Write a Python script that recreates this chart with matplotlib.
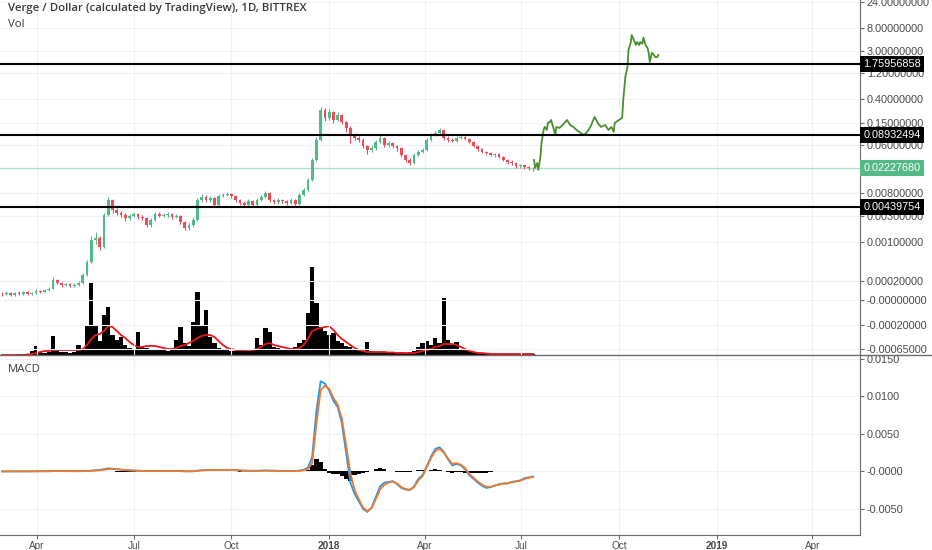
import matplotlib
matplotlib.use('Agg')
import matplotlib.pyplot as plt
from matplotlib.lines import Line2D
from matplotlib.ticker import NullLocator
import pandas as pd

# 4-day candles, XVG/USD
first_open = 1.18e-4
closes = [
    1.157e-4, 1.207e-4, 1.110e-4, 1.207e-4, 1.157e-4, 1.259e-4, 1.157e-4, 1.207e-4, 1.313e-4, 1.280e-4,
    1.369e-4, 1.427e-4, 2.080e-4, 1.834e-4, 1.688e-4, 1.760e-4, 1.618e-4, 1.688e-4, 1.834e-4, 2.565e-4,
    4.420e-4, 1.110e-3, 1.210e-3, 8.280e-4, 3.160e-3, 5.920e-3, 3.900e-3, 3.440e-3, 3.160e-3, 2.790e-3,
    3.030e-3, 3.300e-3, 2.910e-3, 2.790e-3, 2.080e-3, 2.565e-3, 3.300e-3, 3.030e-3, 3.160e-3, 3.300e-3,
    2.910e-3, 3.030e-3, 2.360e-3, 1.834e-3, 2.080e-3, 2.565e-3, 5.920e-3, 6.720e-3, 5.920e-3, 6.440e-3,
    4.810e-3, 7.010e-3, 7.310e-3, 7.620e-3, 7.010e-3, 5.920e-3, 5.230e-3, 4.810e-3, 5.680e-3, 4.810e-3,
    5.920e-3, 6.720e-3, 7.940e-3, 5.920e-3, 5.450e-3, 5.920e-3, 5.680e-3, 5.230e-3, 5.920e-3, 5.010e-3,
    7.310e-3, 9.010e-3, 0.01369, 0.0316, 0.0731, 0.2565, 0.1834, 0.2359, 0.1688, 0.2080,
    0.1552, 0.1207, 0.0901, 0.0794, 0.0731, 0.0568, 0.0481, 0.0523, 0.0672, 0.0794,
    0.0593, 0.0644, 0.0568, 0.0523, 0.0390, 0.0316, 0.0279, 0.0390, 0.0442, 0.0481,
    0.0731, 0.0901, 0.0979, 0.1110, 0.0794, 0.0731, 0.0701, 0.0794, 0.0828, 0.0762,
    0.0672, 0.0568, 0.0502, 0.0442, 0.0424, 0.0390, 0.0400, 0.0358, 0.0316, 0.0291,
    0.0279, 0.0246, 0.0252, 0.0236, 0.0226, 0.0223]
highs = [
    1.25e-4, 1.30e-4, 1.28e-4, 1.27e-4, 1.29e-4, 1.33e-4, 1.32e-4, 1.28e-4, 1.40e-4, 1.39e-4,
    1.45e-4, 1.55e-4, 2.35e-4, 2.20e-4, 1.92e-4, 1.86e-4, 1.82e-4, 1.80e-4, 1.98e-4, 2.80e-4,
    4.90e-4, 1.30e-3, 1.55e-3, 1.30e-3, 3.40e-3, 6.70e-3, 6.30e-3, 4.30e-3, 3.80e-3, 3.40e-3,
    3.30e-3, 3.60e-3, 3.50e-3, 3.20e-3, 2.95e-3, 2.80e-3, 3.60e-3, 3.55e-3, 3.45e-3, 3.55e-3,
    3.45e-3, 3.30e-3, 3.15e-3, 2.50e-3, 2.30e-3, 2.85e-3, 6.40e-3, 7.60e-3, 7.20e-3, 7.00e-3,
    6.70e-3, 7.60e-3, 8.00e-3, 8.40e-3, 8.00e-3, 7.40e-3, 6.30e-3, 5.60e-3, 6.10e-3, 6.00e-3,
    6.40e-3, 7.30e-3, 8.60e-3, 8.20e-3, 6.30e-3, 6.40e-3, 6.30e-3, 6.00e-3, 6.40e-3, 6.20e-3,
    7.90e-3, 9.80e-3, 0.0150, 0.0350, 0.082, 0.290, 0.275, 0.265, 0.250, 0.235,
    0.220, 0.165, 0.130, 0.098, 0.086, 0.078, 0.060, 0.058, 0.072, 0.090,
    0.083, 0.069, 0.067, 0.060, 0.055, 0.041, 0.034, 0.042, 0.048, 0.053,
    0.079, 0.097, 0.106, 0.120, 0.115, 0.085, 0.078, 0.085, 0.089, 0.087,
    0.080, 0.070, 0.059, 0.052, 0.047, 0.045, 0.043, 0.042, 0.037, 0.033,
    0.031, 0.029, 0.027, 0.026, 0.025, 0.024]
lows = [
    1.08e-4, 1.10e-4, 1.05e-4, 1.06e-4, 1.10e-4, 1.11e-4, 1.09e-4, 1.12e-4, 1.16e-4, 1.22e-4,
    1.24e-4, 1.30e-4, 1.40e-4, 1.75e-4, 1.58e-4, 1.60e-4, 1.52e-4, 1.55e-4, 1.62e-4, 1.78e-4,
    2.45e-4, 4.20e-4, 9.50e-4, 7.30e-4, 8.00e-4, 3.00e-3, 3.50e-3, 3.10e-3, 2.90e-3, 2.50e-3,
    2.60e-3, 2.90e-3, 2.70e-3, 2.55e-3, 1.90e-3, 1.95e-3, 2.45e-3, 2.85e-3, 2.85e-3, 2.95e-3,
    2.70e-3, 2.75e-3, 2.20e-3, 1.70e-3, 1.72e-3, 1.95e-3, 2.45e-3, 5.50e-3, 5.50e-3, 5.50e-3,
    4.40e-3, 4.60e-3, 6.60e-3, 6.90e-3, 6.50e-3, 5.50e-3, 4.90e-3, 4.40e-3, 4.50e-3, 4.50e-3,
    4.60e-3, 5.60e-3, 6.40e-3, 5.50e-3, 5.00e-3, 5.10e-3, 5.30e-3, 4.90e-3, 5.00e-3, 4.70e-3,
    4.80e-3, 7.00e-3, 8.60e-3, 0.0130, 0.030, 0.070, 0.160, 0.172, 0.150, 0.160,
    0.140, 0.100, 0.064, 0.072, 0.066, 0.052, 0.040, 0.044, 0.049, 0.064,
    0.055, 0.055, 0.052, 0.047, 0.036, 0.029, 0.026, 0.027, 0.037, 0.042,
    0.046, 0.070, 0.086, 0.093, 0.074, 0.068, 0.066, 0.067, 0.075, 0.072,
    0.064, 0.054, 0.047, 0.042, 0.040, 0.037, 0.036, 0.034, 0.030, 0.027,
    0.026, 0.023, 0.023, 0.022, 0.021, 0.020]

# volume (millions) and its moving average
volume = [
    5, 5, 5, 5, 6, 8, 10, 40, 90, 30,
    20, 30, 190, 60, 30, 30, 20, 30, 100, 50,
    300, 720, 300, 140, 400, 480, 200, 150, 180, 100,
    70, 60, 230, 80, 70, 60, 50, 60, 50, 40,
    50, 150, 280, 120, 90, 330, 630, 300, 450, 180,
    120, 70, 60, 50, 40, 40, 50, 40, 40, 60,
    170, 100, 270, 230, 80, 70, 60, 60, 70, 80,
    120, 150, 420, 880, 520, 280, 240, 200, 220, 140,
    120, 90, 80, 60, 50, 40, 130, 40, 30, 30,
    30, 20, 30, 20, 30, 20, 30, 40, 80, 120,
    140, 100, 170, 120, 570, 150, 100, 130, 60, 50,
    40, 30, 20, 20, 20, 15, 15, 15, 10, 10,
    10, 10, 10, 10, 10, 10]
volume_ma = [
    0, 0, 0, 0, 0, 0, 5, 10, 20, 30,
    40, 40, 50, 50, 50, 50, 50, 50, 50, 60,
    100, 160, 200, 210, 240, 290, 280, 240, 200, 170,
    130, 100, 80, 80, 90, 90, 90, 80, 70, 60,
    60, 70, 90, 100, 120, 140, 170, 190, 200, 200,
    180, 140, 100, 70, 60, 50, 50, 50, 50, 50,
    60, 80, 110, 120, 100, 90, 80, 70, 60, 60,
    70, 100, 160, 240, 260, 270, 280, 290, 250, 200,
    160, 130, 100, 70, 50, 40, 30, 30, 30, 30,
    30, 25, 25, 20, 20, 20, 20, 20, 30, 40,
    50, 60, 80, 90, 110, 110, 110, 100, 80, 60,
    40, 30, 20, 20, 15, 10, 10, 10, 10, 10,
    10, 10, 10, 10, 10, 10]

# MACD pane
macd = [
    0.00000, 0.00000, 0.00000, 0.00001, 0.00001, 0.00001, 0.00001, 0.00001, 0.00002, 0.00002,
    0.00002, 0.00003, 0.00004, 0.00004, 0.00004, 0.00003, 0.00003, 0.00003, 0.00003, 0.00004,
    0.00006, 0.00010, 0.00016, 0.00020, 0.00030, 0.00040, 0.00036, 0.00028, 0.00022, 0.00016,
    0.00012, 0.00010, 0.00008, 0.00006, 0.00004, 0.00004, 0.00006, 0.00006, 0.00006, 0.00007,
    0.00006, 0.00005, 0.00003, 0.00001, 0.00001, 0.00003, 0.00010, 0.00016, 0.00018, 0.00019,
    0.00016, 0.00018, 0.00020, 0.00022, 0.00020, 0.00016, 0.00012, 0.00009, 0.00008, 0.00007,
    0.00008, 0.00010, 0.00012, 0.00010, 0.00008, 0.00007, 0.00006, 0.00005, 0.00006, 0.00006,
    0.00010, 0.00020, 0.00050, 0.00190, 0.00800, 0.01200, 0.01170, 0.01080, 0.00940, 0.00860,
    0.00640, 0.00250, -0.00150, -0.00300, -0.00400, -0.00500, -0.00540, -0.00480, -0.00340, -0.00200,
    -0.00150, -0.00140, -0.00130, -0.00170, -0.00220, -0.00240, -0.00250, -0.00200, -0.00100, -0.00050,
    0.00070, 0.00200, 0.00300, 0.00320, 0.00260, 0.00160, 0.00080, 0.00100, 0.00080, 0.00030,
    -0.00050, -0.00100, -0.00150, -0.00190, -0.00220, -0.00210, -0.00190, -0.00170, -0.00160, -0.00160,
    -0.00140, -0.00130, -0.00120, -0.00090, -0.00080, -0.00070]
signal = [
    0.00000, 0.00000, 0.00000, 0.00000, 0.00001, 0.00001, 0.00001, 0.00001, 0.00001, 0.00002,
    0.00002, 0.00002, 0.00003, 0.00004, 0.00004, 0.00004, 0.00003, 0.00003, 0.00003, 0.00003,
    0.00004, 0.00007, 0.00011, 0.00016, 0.00022, 0.00030, 0.00034, 0.00030, 0.00025, 0.00019,
    0.00015, 0.00012, 0.00009, 0.00007, 0.00005, 0.00004, 0.00005, 0.00006, 0.00006, 0.00006,
    0.00006, 0.00005, 0.00004, 0.00002, 0.00001, 0.00002, 0.00006, 0.00012, 0.00016, 0.00018,
    0.00017, 0.00017, 0.00019, 0.00021, 0.00020, 0.00017, 0.00014, 0.00010, 0.00009, 0.00008,
    0.00008, 0.00009, 0.00011, 0.00010, 0.00009, 0.00008, 0.00007, 0.00006, 0.00006, 0.00006,
    0.00008, 0.00015, 0.00030, 0.00110, 0.00630, 0.01080, 0.01140, 0.01100, 0.00980, 0.00890,
    0.00700, 0.00350, -0.00020, -0.00250, -0.00370, -0.00480, -0.00530, -0.00490, -0.00370, -0.00240,
    -0.00180, -0.00150, -0.00135, -0.00160, -0.00210, -0.00235, -0.00245, -0.00210, -0.00120, -0.00065,
    0.00060, 0.00180, 0.00270, 0.00300, 0.00250, 0.00170, 0.00100, 0.00110, 0.00090, 0.00045,
    -0.00030, -0.00085, -0.00135, -0.00175, -0.00205, -0.00205, -0.00190, -0.00175, -0.00165, -0.00160,
    -0.00145, -0.00135, -0.00125, -0.00100, -0.00085, -0.00075]
histogram = [
    0.00000, 0.00000, 0.00000, 0.00001, 0.00000, 0.00000, 0.00000, 0.00000, 0.00001, 0.00000,
    0.00000, 0.00001, 0.00001, 0.00000, 0.00000, -0.00001, 0.00000, 0.00000, 0.00000, 0.00001,
    0.00002, 0.00003, 0.00005, 0.00004, 0.00008, 0.00010, 0.00002, -0.00002, -0.00003, -0.00003,
    -0.00003, -0.00002, -0.00001, -0.00001, -0.00001, 0.00000, 0.00001, 0.00000, 0.00000, 0.00001,
    0.00000, 0.00000, -0.00001, -0.00001, 0.00000, 0.00001, 0.00004, 0.00004, 0.00002, 0.00001,
    -0.00001, 0.00001, 0.00001, 0.00001, 0.00000, -0.00001, -0.00002, -0.00001, -0.00001, -0.00001,
    0.00000, 0.00001, 0.00001, 0.00000, -0.00001, -0.00001, -0.00001, -0.00001, 0.00000, 0.00000,
    0.00002, 0.00005, 0.00020, 0.00080, 0.00170, 0.00120, 0.00030, -0.00020, -0.00040, -0.00030,
    -0.00060, -0.00100, -0.00130, -0.00050, -0.00030, -0.00020, -0.00010, 0.00010, 0.00030, 0.00040,
    0.00030, 0.00010, 0.00005, -0.00010, -0.00010, -0.00005, -0.00005, 0.00010, 0.00020, 0.00015,
    0.00010, 0.00020, 0.00030, 0.00020, 0.00010, -0.00010, -0.00020, -0.00010, -0.00010, -0.00015,
    -0.00020, -0.00015, -0.00015, -0.00015, -0.00015, -0.00005, 0.00000, 0.00005, 0.00005, 0.00000,
    0.00005, 0.00005, 0.00005, 0.00010, 0.00005, 0.00005]

# hand-drawn green path after the last candle
path_dates = ['2018-07-13', '2018-07-14', '2018-07-16', '2018-07-17', '2018-07-19', '2018-07-20',
              '2018-07-22', '2018-07-23', '2018-07-25', '2018-07-26', '2018-07-28', '2018-07-29',
              '2018-07-31', '2018-08-02', '2018-08-03', '2018-08-06', '2018-08-09', '2018-08-13',
              '2018-08-16', '2018-08-19', '2018-08-22', '2018-08-26', '2018-08-29', '2018-09-01',
              '2018-09-04', '2018-09-08', '2018-09-11', '2018-09-14', '2018-09-18', '2018-09-21',
              '2018-09-24', '2018-09-26', '2018-09-27', '2018-10-01', '2018-10-04', '2018-10-05',
              '2018-10-07', '2018-10-09', '2018-10-10', '2018-10-12', '2018-10-13', '2018-10-15',
              '2018-10-17', '2018-10-18', '2018-10-20', '2018-10-21', '2018-10-23', '2018-10-24',
              '2018-10-26', '2018-10-28', '2018-10-29', '2018-10-30', '2018-11-01', '2018-11-03',
              '2018-11-04', '2018-11-06', '2018-11-07']
path_prices = [0.0316, 0.0226, 0.0279, 0.0208, 0.0358, 0.0644, 0.111, 0.126, 0.111, 0.149,
               0.155, 0.169, 0.126, 0.090, 0.126, 0.121, 0.137, 0.169, 0.137, 0.126,
               0.111, 0.098, 0.090, 0.102, 0.126, 0.191, 0.149, 0.126, 0.137, 0.111,
               0.126, 0.102, 0.149, 0.169, 0.184, 0.39, 1.02, 1.55, 3.2, 4.24,
               5.9, 4.8, 3.9, 4.4, 3.9, 4.4, 4.1, 5.3, 3.9, 3.4,
               2.79, 1.91, 2.8, 2.56, 2.35, 2.35, 2.56]

levels = [1.75956858, 0.08932494, 0.00439754]
last_price = 0.0222768

price_ticks = [24, 8, 3, 1.2, 0.4, 0.15, 0.06, 0.008, 0.003, 0.001, 0.0002, 9.0e-5, 3.2e-5, 1.16e-5]
price_labels = ['24.00000000', '8.00000000', '3.00000000', '1.20000000', '0.40000000',
                '0.15000000', '0.06000000', '0.00800000', '0.00300000', '0.00100000',
                '0.00020000', '-0.00000000', '-0.00020000', '-0.00065000']
macd_ticks = [0.015, 0.01, 0.005, 0.0, -0.005]
macd_labels = ['0.0150', '0.0100', '0.0050', '-0.0000', '-0.0050']
month_ticks = ['2017-04-01', '2017-07-01', '2017-10-01', '2018-01-01', '2018-04-01',
               '2018-07-01', '2018-10-01', '2019-01-01', '2019-04-01']
month_labels = ['Apr', 'Jul', 'Oct', '2018', 'Apr', 'Jul', 'Oct', '2019', 'Apr']

UP = '#53b987'
DOWN = '#eb4d5c'
GRID = '#eef1f6'
TXT = '#4a4a4a'

dates = pd.date_range('2017-02-27', periods=len(closes), freq='4D')
opens = [first_open] + closes[:-1]

W, H = 932, 550
fig = plt.figure(figsize=(W / 100, H / 100), dpi=100)
rect_p = [0, 1 - 355 / H, 860 / W, 355 / H]
rect_m = [0, 15 / H, 860 / W, 180 / H]

axv = fig.add_axes(rect_p)
ax = fig.add_axes(rect_p, sharex=axv)
axm = fig.add_axes(rect_m, sharex=axv)
ax.patch.set_alpha(0)

# volume
axv.bar(dates, volume, width=4, color='black', linewidth=0)
axv.plot(dates, volume_ma, color='#e8141c', lw=1.3)
axv.set_ylim(0, 3550)
axv.axis('off')

# price
ax.set_yscale('log')
colors = [UP if c >= o else DOWN for o, c in zip(opens, closes)]
bottoms = [min(o, c) for o, c in zip(opens, closes)]
heights = [abs(c - o) for o, c in zip(opens, closes)]
ax.vlines(dates, lows, highs, colors=colors, lw=0.8, zorder=3)
ax.bar(dates, heights, bottom=bottoms, width=2.6, color=colors, linewidth=0, zorder=3)
ax.plot(pd.to_datetime(path_dates), path_prices, color='#4b8f2f', lw=1.3, zorder=4)

ax.axhline(last_price, color='#a8e0cc', lw=0.9, zorder=2)
for lv in levels:
    ax.axhline(lv, color='black', lw=1.5, zorder=5)

ax.set_ylim(9.0e-6, 25.6)
ax.yaxis.tick_right()
ax.set_yticks(price_ticks)
ax.set_yticklabels(price_labels)
ax.yaxis.set_minor_locator(NullLocator())
ax.grid(True, color=GRID, lw=0.8, zorder=0)

lab_font = dict(family='Liberation Sans', size=7.8)
for lv in levels:
    ax.text(1.004, lv, '%.8f' % lv, transform=ax.get_yaxis_transform(), va='center', ha='left',
            color='white', bbox=dict(boxstyle='square,pad=0.28', fc='black', ec='none'),
            clip_on=False, zorder=10, **lab_font)
ax.text(1.004, last_price, '%.8f' % last_price, transform=ax.get_yaxis_transform(), va='center',
        ha='left', color='white', bbox=dict(boxstyle='square,pad=0.28', fc=UP, ec='none'),
        clip_on=False, zorder=10, **lab_font)

# MACD
axm.bar(dates, histogram, width=4, color='black', linewidth=0)
axm.plot(dates, macd, color='#2196f3', lw=1.3)
axm.plot(dates, signal, color='#f07a2a', lw=1.3)
axm.set_ylim(-0.00847, 0.0155)
axm.yaxis.tick_right()
axm.set_yticks(macd_ticks)
axm.set_yticklabels(macd_labels)
axm.grid(True, color=GRID, lw=0.8, zorder=0)
axm.set_axisbelow(True)

ax.set_xlim(pd.Timestamp('2017-02-25'), pd.Timestamp('2019-05-16'))
axm.set_xticks(pd.to_datetime(month_ticks))
axm.set_xticklabels(month_labels)
for t in axm.get_xticklabels():
    if t.get_text().isdigit():
        t.set_fontweight('bold')

for a in (ax, axm):
    for s in ('top', 'left'):
        a.spines[s].set_visible(False)
    a.spines['right'].set_color('#6b6b6b')
    a.tick_params(axis='y', length=3, color='#6b6b6b', labelcolor=TXT, pad=2)
    for t in a.get_yticklabels():
        t.set_fontfamily('Liberation Sans')
        t.set_fontsize(7.8)
ax.spines['bottom'].set_visible(False)
ax.tick_params(axis='x', bottom=False, labelbottom=False)
axm.spines['bottom'].set_color('#6b6b6b')
axm.tick_params(axis='x', length=3, color='#6b6b6b', labelcolor=TXT, pad=1)
for t in axm.get_xticklabels():
    t.set_fontfamily('Liberation Sans')
    t.set_fontsize(7.2)

# pane separator
fig.add_artist(Line2D([0, 1], [1 - 355 / H, 1 - 355 / H], color='#6b6b6b', lw=1))

fig.text(8 / W, 1 - 3 / H, 'Verge / Dollar (calculated by TradingView), 1D, BITTREX', va='top',
         ha='left', family='Open Sans', weight='semibold', size=8.2, color='#3a3a3a')
fig.text(8 / W, 1 - 19 / H, 'Vol', va='top', ha='left', family='Open Sans', size=8.2, color='#3a3a3a')
fig.text(8 / W, 1 - 369 / H, 'MACD', va='center', ha='left', family='Open Sans', size=8.2,
         color='#3a3a3a')

fig.savefig('out.png', dpi=100)
